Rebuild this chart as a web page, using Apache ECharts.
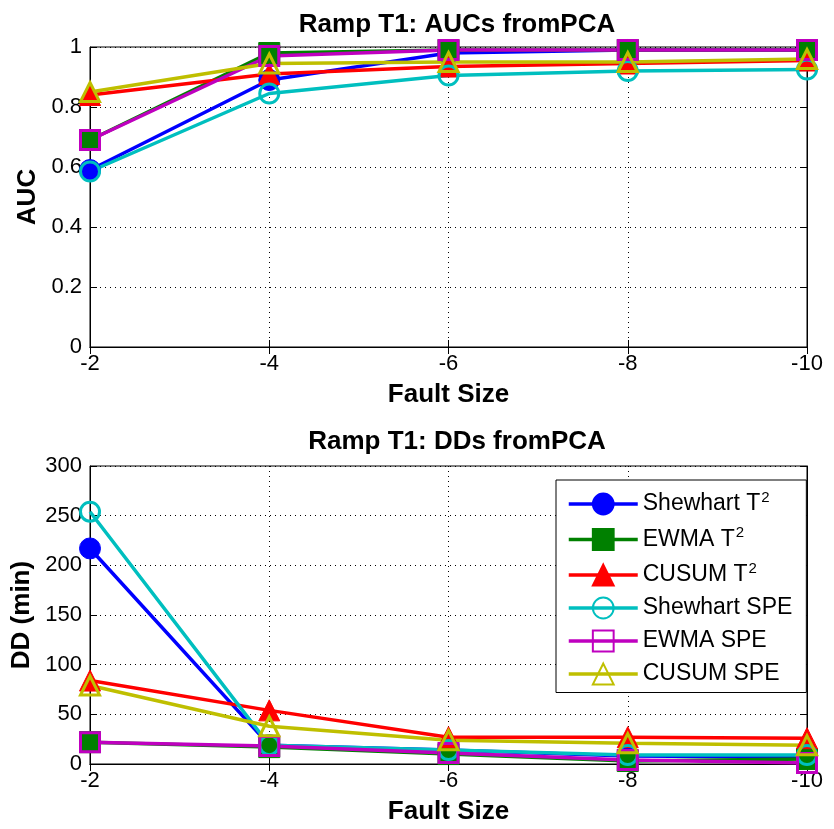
<!DOCTYPE html>
<html>
<head>
<meta charset="utf-8">
<script src="https://cdn.jsdelivr.net/npm/echarts@6/dist/echarts.min.js"></script>
<style>
html, body { margin: 0; padding: 0; background: #fff; }
#main { width: 834px; height: 829px; }
</style>
</head>
<body>
<div id="main"></div>
<script>
var faultSizes = ['-2', '-4', '-6', '-8', '-10'];

// AUC values (top plot)
var aucShewhartT2 = [0.59, 0.89, 0.98, 0.99, 0.99];
var aucEwmaT2 = [0.69, 0.98, 0.99, 0.99, 0.99];
var aucCusumT2 = [0.84, 0.91, 0.935, 0.945, 0.955];
var aucShewhartSPE = [0.585, 0.845, 0.905, 0.92, 0.925];
var aucEwmaSPE = [0.69, 0.97, 0.99, 0.99, 0.99];
var aucCusumSPE = [0.85, 0.945, 0.95, 0.95, 0.96];

// DD values in minutes (bottom plot)
var ddShewhartT2 = [217, 19, 14, 8, 7];
var ddEwmaT2 = [22, 17, 10, 3, 5];
var ddCusumT2 = [84, 54, 27, 27, 26];
var ddShewhartSPE = [254, 19, 14, 9, 9];
var ddEwmaSPE = [22, 18, 11, 4, 1];
var ddCusumSPE = [79, 38, 24, 21, 19];

var names = ['Shewhart T2', 'EWMA T2', 'CUSUM T2', 'Shewhart SPE', 'EWMA SPE', 'CUSUM SPE'];
var colors = ['#0000ff', '#008000', '#ff0000', '#00bfbf', '#bf00bf', '#bfbf00'];
var symbols = ['circle', 'rect', 'triangle', 'circle', 'rect', 'triangle'];
var hollow = [false, false, false, true, true, true];

var aucData = [aucShewhartT2, aucEwmaT2, aucCusumT2, aucShewhartSPE, aucEwmaSPE, aucCusumSPE];
var ddData = [ddShewhartT2, ddEwmaT2, ddCusumT2, ddShewhartSPE, ddEwmaSPE, ddCusumSPE];

var font = 'Liberation Sans, Arial, sans-serif';

function mkSeries(data, idx) {
	var out = [];
	for (var i = 0; i < data.length; i++) {
		out.push({
			name: names[i],
			type: 'line',
			xAxisIndex: idx * 2,
			yAxisIndex: idx * 2,
			data: data[i],
			symbol: symbols[i],
			symbolSize: hollow[i] ? 19 : 21,
			lineStyle: { color: colors[i], width: 3.5 },
			itemStyle: {
				color: hollow[i] ? 'rgba(0,0,0,0)' : colors[i],
				borderColor: colors[i],
				borderWidth: hollow[i] ? 3 : 1
			},
			emphasis: { disabled: true },
			animation: false
		});
	}
	return out;
}

function xAx(idx) {
	return {
		type: 'category',
		gridIndex: idx,
		data: faultSizes,
		boundaryGap: false,
		name: 'Fault Size',
		nameLocation: 'middle',
		nameGap: 35,
		nameTextStyle: { fontFamily: font, fontSize: 26, fontWeight: 'bold', color: '#000' },
		axisLine: { lineStyle: { color: '#000', width: 1 } },
		axisTick: { inside: true, length: 7, lineStyle: { color: '#000' } },
		axisLabel: { fontFamily: font, fontSize: 22, color: '#000', margin: 6 },
		splitLine: { show: true, lineStyle: { color: '#000', type: [1, 4], width: 1 } }
	};
}

// mirrored tick marks on the top edge (MATLAB box style)
function xTop(idx) {
	return {
		type: 'category',
		gridIndex: idx,
		position: 'top',
		data: faultSizes,
		boundaryGap: false,
		axisLine: { lineStyle: { color: '#000', width: 1 } },
		axisTick: { inside: true, length: 7, lineStyle: { color: '#000' } },
		axisLabel: { show: false },
		splitLine: { show: false }
	};
}

function yAx(idx, min, max, interval, name) {
	return {
		type: 'value',
		gridIndex: idx,
		min: min,
		max: max,
		interval: interval,
		name: name,
		nameLocation: 'middle',
		nameGap: 47,
		nameTextStyle: { fontFamily: font, fontSize: 26, fontWeight: 'bold', color: '#000' },
		axisLine: { show: true, lineStyle: { color: '#000', width: 1 } },
		axisTick: { show: true, inside: true, length: 7, lineStyle: { color: '#000' } },
		axisLabel: { fontFamily: font, fontSize: 22, color: '#000', margin: 8 },
		splitLine: { show: true, lineStyle: { color: '#000', type: [1, 4], width: 1 } }
	};
}

function yRight(idx, min, max, interval) {
	return {
		type: 'value',
		gridIndex: idx,
		position: 'right',
		min: min,
		max: max,
		interval: interval,
		axisLine: { show: true, lineStyle: { color: '#000', width: 1 } },
		axisTick: { show: true, inside: true, length: 7, lineStyle: { color: '#000' } },
		axisLabel: { show: false },
		splitLine: { show: false }
	};
}

var sup = { fontFamily: font, fontSize: 15, color: '#000', verticalAlign: 'top', padding: [0, 0, 13, 1] };

var option = {
	backgroundColor: '#fff',
	animation: false,
	title: [
		{ text: 'Ramp T1: AUCs fromPCA', left: 452, top: 7, textAlign: 'center',
			textStyle: { fontFamily: font, fontSize: 26, fontWeight: 'bold', color: '#000' } },
		{ text: 'Ramp T1: DDs fromPCA', left: 452, top: 424, textAlign: 'center',
			textStyle: { fontFamily: font, fontSize: 26, fontWeight: 'bold', color: '#000' } }
	],
	grid: [
		{ left: 90, right: 27, top: 47, height: 300, show: true, borderColor: '#000', borderWidth: 1 },
		{ left: 90, right: 27, top: 466, height: 298, show: true, borderColor: '#000', borderWidth: 1 }
	],
	xAxis: [xAx(0), xTop(0), xAx(1), xTop(1)],
	yAxis: [
		yAx(0, 0, 1, 0.2, 'AUC'),
		yRight(0, 0, 1, 0.2),
		yAx(1, 0, 300, 50, 'DD (min)'),
		yRight(1, 0, 300, 50)
	],
	legend: {
		orient: 'vertical',
		left: 556,
		top: 480,
		data: names,
		itemWidth: 69,
		itemHeight: 26,
		itemGap: 10,
		padding: [10, 14, 7, 11],
		backgroundColor: '#fff',
		borderColor: '#000',
		borderWidth: 1,
		borderRadius: 0,
		selectedMode: false,
		lineStyle: { width: 3.5 },
		formatter: function(n) {
			if (n.slice(-2) === 'T2') return n.slice(0, -1) + '{s|2}';
			return n;
		},
		textStyle: {
			fontFamily: font, fontSize: 23, color: '#000',
			rich: { s: sup }
		}
	},
	series: mkSeries(aucData, 0).concat(mkSeries(ddData, 1))
};

var chart = echarts.init(document.getElementById('main'), null, { renderer: 'canvas' });
chart.setOption(option);
</script>
</body>
</html>
